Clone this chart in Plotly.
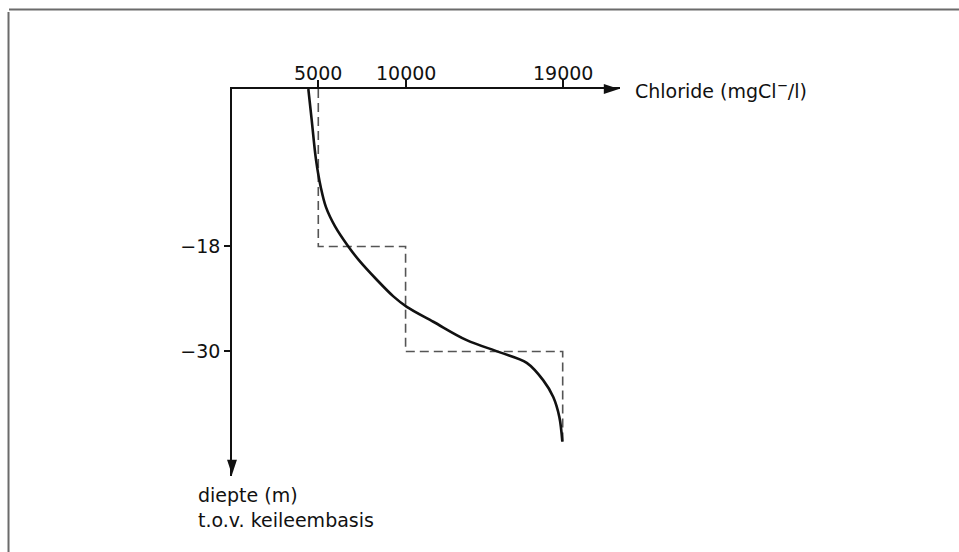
import plotly.graph_objects as go

# ---- data ----
curve_depth = [0, 3.5, 8.1, 11.2, 13.5, 15.7, 18.0, 19.5, 21.8, 23.7, 24.9, 26.6, 28.7, 30.1, 31.3, 33.3, 35.2, 37.5, 40.3]
curve_chloride = [4430, 4620, 4870, 5140, 5440, 5960, 6720, 7300, 8350, 9300, 10070, 11590, 13500, 15410, 16940, 17890, 18460, 18810, 18980]

step_chloride = [5000, 5000, 10000, 10000, 19000, 19000]
step_depth = [0, 18, 18, 30, 30, 40.3]

x_tickvals = [5000, 10000, 19000]
x_ticktext = ["5000", "10000", "19000"]
y_tickvals = [-18, -30]

x_title = "Chloride (mgCl<sup>−</sup>/l)"
y_title_1 = "diepte (m)"
y_title_2 = "t.o.v. keileembasis"

FONT = "DejaVu Sans"
FS = 19
INK = "#111111"

# axis geometry (layout constants): axes run to the arrow tips
X0, X1 = 57, 22283
Y0, Y1 = -44.23, 0
X_TIP = 22226
Y_TIP = -44.1

fig = go.Figure()

fig.add_trace(go.Scatter(
    x=step_chloride, y=[-d for d in step_depth], mode="lines",
    line=dict(color="#555555", width=1.6, dash="9px,5px"),
    hoverinfo="skip", showlegend=False, cliponaxis=False))

fig.add_trace(go.Scatter(
    x=curve_chloride, y=[-d for d in curve_depth], mode="lines",
    line=dict(color=INK, width=2.6, shape="spline", smoothing=1.0),
    hoverinfo="skip", showlegend=False, cliponaxis=False))

# arrowheads on the axes
fig.add_trace(go.Scatter(
    x=[X_TIP], y=[0], mode="markers",
    marker=dict(symbol="arrow", size=16, angle=90, color=INK, line=dict(width=0, color=INK)),
    hoverinfo="skip", showlegend=False, cliponaxis=False))
fig.add_trace(go.Scatter(
    x=[X0], y=[Y_TIP], mode="markers",
    marker=dict(symbol="arrow", size=16, angle=180, color=INK, line=dict(width=0, color=INK)),
    hoverinfo="skip", showlegend=False, cliponaxis=False))

fig.update_layout(
    width=959, height=552, autosize=False,
    margin=dict(l=232, r=339, t=89, b=76, pad=0),
    paper_bgcolor="white", plot_bgcolor="white",
    font=dict(family=FONT, size=FS, color=INK),
    xaxis=dict(range=[X0, X1], side="top", showline=True, linecolor=INK, linewidth=1.5,
               ticks="outside", ticklen=7, tickwidth=1.5, tickcolor=INK,
               tickvals=x_tickvals, showticklabels=False, showgrid=False, zeroline=False),
    yaxis=dict(range=[Y0, Y1], showline=True, linecolor=INK, linewidth=1.5,
               ticks="outside", ticklen=6, tickwidth=1.5, tickcolor=INK,
               tickvals=y_tickvals, showgrid=False, zeroline=False,
               tickfont=dict(family=FONT, size=FS, color=INK)),
)

# x tick labels placed just above the top axis
for v, t in zip(x_tickvals, x_ticktext):
    fig.add_annotation(x=v, y=0, xref="x", yref="y", xanchor="center", yanchor="bottom",
                       yshift=3, text=t, showarrow=False,
                       font=dict(family=FONT, size=FS, color=INK))

# axis titles
fig.add_annotation(x=1.0335, y=0.9974, xref="paper", yref="paper", xanchor="left", yanchor="middle",
                   text=x_title, showarrow=False, font=dict(family=FONT, size=FS, color=INK))
fig.add_annotation(x=-0.0928, y=-0.0491, xref="paper", yref="paper", xanchor="left", yanchor="middle",
                   text=y_title_1, showarrow=False, font=dict(family=FONT, size=FS, color=INK))
fig.add_annotation(x=-0.0928, y=-0.1137, xref="paper", yref="paper", xanchor="left", yanchor="middle",
                   text=y_title_2, showarrow=False, font=dict(family=FONT, size=FS, color=INK))

# frame lines (top and left)
fig.add_shape(type="line", xref="paper", yref="paper", x0=-0.5747, x1=1.8737, y0=1.2054, y1=1.2054,
              line=dict(color="#6b6b6b", width=2))
fig.add_shape(type="line", xref="paper", yref="paper", x0=-0.5760, x1=-0.5760, y0=1.1990, y1=-0.1964,
              line=dict(color="#6b6b6b", width=2))

fig.write_html("out.html", config={"displayModeBar": False},
               post_script="document.body.style.margin='0';document.body.style.overflow='hidden';")
